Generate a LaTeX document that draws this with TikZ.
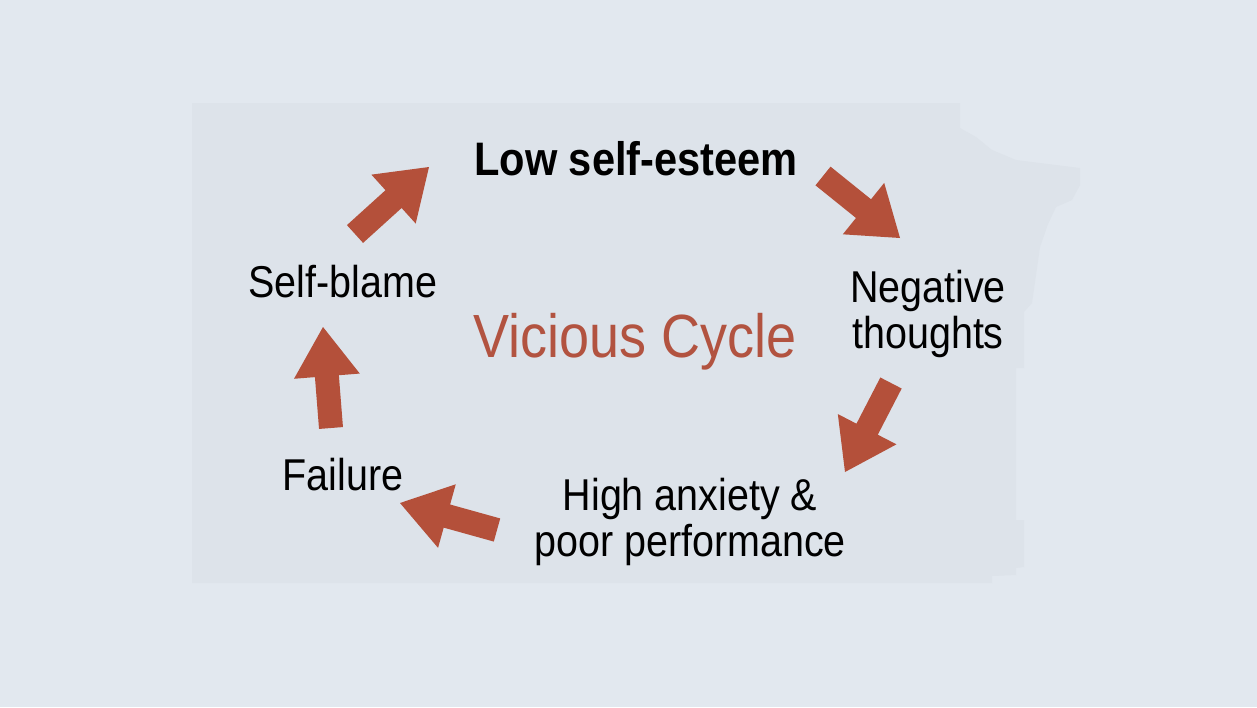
\documentclass[tikz,border=0pt]{standalone}
\usepackage{fontspec}
\setmainfont{Liberation Sans}[FakeStretch=0.885]
\usetikzlibrary{calc}
\definecolor{bgouter}{HTML}{E2E8EF}
\definecolor{bginner}{HTML}{DDE3EA}
\definecolor{arrowred}{HTML}{B4503A}
\definecolor{titlered}{HTML}{B25340}
\tikzset{
  lbl/.style={inner sep=0pt, anchor=base, align=center, text=black,
    font=\fontsize{44.6pt}{46pt}\selectfont},
  boldlbl/.style={lbl, font=\fontsize{47pt}{50pt}\selectfont\bfseries},
  titlelbl/.style={lbl, text=titlered, font=\fontsize{61pt}{64pt}\selectfont},
  blk/.style={fill=arrowred},
}
\newcommand\blockarrow[2]{%
  \coordinate (ha) at ($(#1)!52pt!(#2)$);
  \fill[blk] ($(#1)!12pt!90:(#2)$) -- ($(ha)!12pt!90:(#2)$) -- ($(ha)!33pt!90:(#2)$)
    -- (#2) -- ($(ha)!33pt!-90:(#2)$) -- ($(ha)!12pt!-90:(#2)$)
    -- ($(#1)!12pt!-90:(#2)$) -- cycle;}
\begin{document}
\begin{tikzpicture}[x=1pt,y=-1pt]
\fill[bgouter] (0,0) rectangle (1257,707);
\useasboundingbox (0,0) rectangle (1257,707);
\fill[bginner] (192,103) -- (960,103) -- (960,128) -- (976,137) -- (992,150)
  -- (1016,160) -- (1080,168) -- (1080,185) -- (1072,200) -- (1056,207)
  -- (1048,224) -- (1040,247) -- (1032,303) -- (1024,312) -- (1024,368)
  -- (1016,368) -- (1016,520) -- (1024,520) -- (1024,567) -- (1016,568)
  -- (1016,575) -- (992,576) -- (992,583) -- (192,583) -- cycle;
\node[boldlbl] (low) at (636,175) {Low self-esteem};
\node[lbl] (neg) at (928,348) {Negative\\thoughts};
\node[lbl] (high) at (690,556) {High anxiety \&\\poor performance};
\node[lbl] (fail) at (343,490) {Failure};
\node[lbl] (blame) at (343,297) {Self-blame};
\node[titlelbl] (vc) at (635,357) {Vicious Cycle};
\coordinate (a1t) at (355,234); \coordinate (a1h) at (429,167);
\coordinate (a2t) at (823,176); \coordinate (a2h) at (900,238);
\coordinate (a3t) at (891,383); \coordinate (a3h) at (845,472);
\coordinate (a4t) at (497,530); \coordinate (a4h) at (400,503);
\coordinate (a5t) at (331,428); \coordinate (a5h) at (323,327);
\blockarrow{a1t}{a1h}
\blockarrow{a2t}{a2h}
\blockarrow{a3t}{a3h}
\blockarrow{a4t}{a4h}
\blockarrow{a5t}{a5h}
\end{tikzpicture}
\end{document}
